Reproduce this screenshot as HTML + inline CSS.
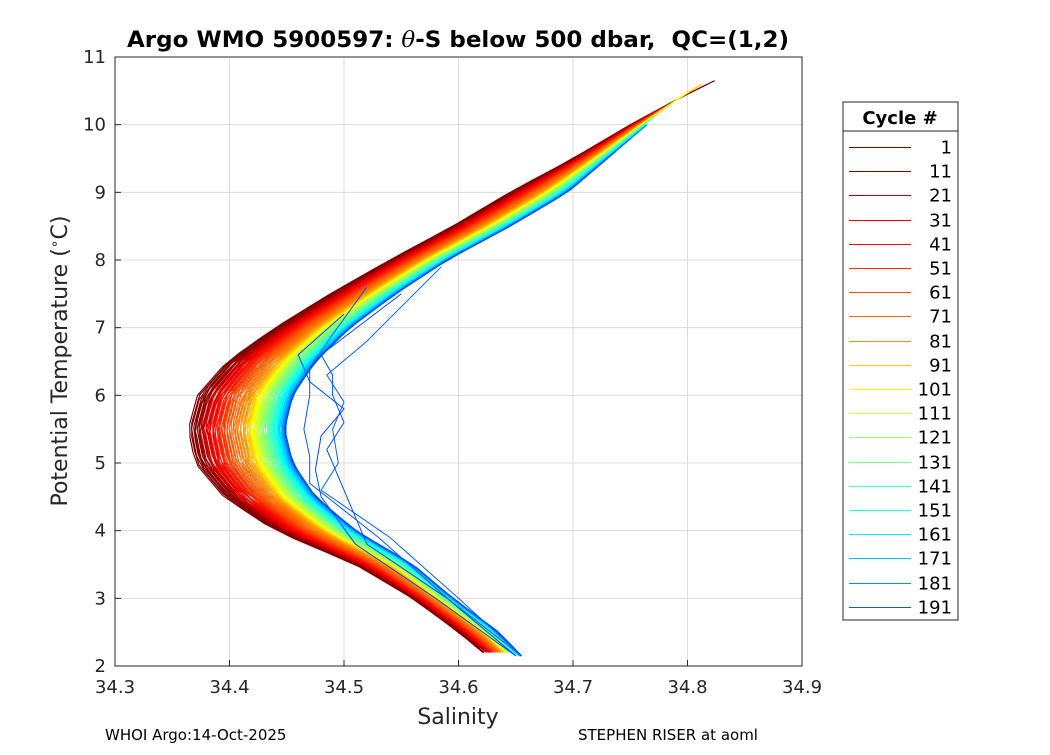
<!DOCTYPE html>
<html><head><meta charset="utf-8"><style>
body{margin:0;background:#fff;}
svg text{font-family:"DejaVu Sans","Liberation Sans",sans-serif;}
</style></head><body>
<svg id="chart" width="1050" height="750" xmlns="http://www.w3.org/2000/svg">
<rect width="1050" height="750" fill="#fff"/>
<g id="grid"></g>
<g id="lines"></g>
<rect x="115" y="57" width="687" height="609" fill="none" stroke="#262626" stroke-width="1"/>
<g id="ticks"></g>
<text x="458" y="47" text-anchor="middle" font-size="22" font-weight="bold" fill="#000" textLength="662" lengthAdjust="spacingAndGlyphs">Argo WMO 5900597: <tspan font-style="italic" font-family="DejaVu Serif,serif" font-weight="normal">θ</tspan>-S below 500 dbar,&#160; QC=(1,2)</text>
<text x="458" y="724" text-anchor="middle" font-size="22" fill="#262626">Salinity</text>
<text transform="translate(67,361) rotate(-90)" text-anchor="middle" font-size="22" fill="#262626">Potential Temperature (<tspan dy="-8" font-size="14">∘</tspan><tspan dy="8">C)</tspan></text>
<text x="105" y="740" font-size="15" fill="#000">WHOI Argo:14-Oct-2025</text>
<text x="578" y="740" font-size="15" fill="#000">STEPHEN RISER at aoml</text>
<g id="legend">
<rect x="843" y="102" width="115" height="518" fill="#fff" stroke="#262626"/>
<line x1="843" y1="131" x2="958" y2="131" stroke="#262626"/>
<text x="900" y="124" text-anchor="middle" font-size="18" font-weight="bold">Cycle #</text>
</g>
</svg>
<script>
const xTicks=[34.3,34.4,34.5,34.6,34.7,34.8,34.9];
const xTickLabels=["34.3","34.4","34.5","34.6","34.7","34.8","34.9"];
const yTicks=[2,3,4,5,6,7,8,9,10,11];
const yTickLabels=["2","3","4","5","6","7","8","9","10","11"];
const legendCycles=[1,11,21,31,41,51,61,71,81,91,101,111,121,131,141,151,161,171,181,191];
const levelT=[2.15,2.5,3,3.5,4,4.5,5,5.5,6,6.5,7,7.5,8,8.5,9,9.5,10,10.5,10.7];
const earlyS=[34.625,34.60,34.56,34.51,34.44,34.395,34.37,34.364,34.372,34.398,34.44,34.488,34.54,34.595,34.645,34.70,34.75,34.805,34.83];
const lateS=[34.655,34.635,34.595,34.56,34.51,34.475,34.455,34.448,34.455,34.475,34.505,34.545,34.59,34.645,34.695,34.73,34.765,34.80,34.82];
const cycles=[1,3,5,7,9,11,13,15,17,19,21,23,25,27,29,31,33,35,37,39,41,43,45,47,49,51,53,55,57,59,61,63,65,67,69,71,73,75,77,79,81,83,85,87,89,91,93,95,97,99,101,103,105,107,109,111,113,115,117,119,121,123,125,127,129,131,133,135,137,139,141,143,145,147,149,151,153,155,157,159,161,163,165,167,169,171,173,175,177,179,181,183,185,187,189,191,193];
const frac=[0.00,0.02,0.05,0.03,0.07,0.09,0.06,0.11,0.10,0.14,0.12,0.16,0.15,0.19,0.17,0.21,0.20,0.24,0.22,0.26,0.25,0.29,0.27,0.31,0.30,0.34,0.32,0.36,0.35,0.39,0.37,0.42,0.40,0.45,0.43,0.48,
0.50,0.47,0.53,0.51,0.56,0.54,0.58,0.57,0.60,0.62,0.61,0.64,0.63,0.66,0.65,0.68,0.67,0.70,0.69,0.72,0.71,0.74,0.73,0.76,0.75,0.77,0.79,0.78,0.80,0.82,0.81,0.83,0.85,0.84,0.86,0.87,0.86,0.88,0.89,0.90,0.89,0.91,0.92,0.93,0.92,0.94,0.95,0.94,0.96,0.97,0.96,0.97,0.98,0.99,0.98,0.99,1.00,0.99,1.00,1.00,1.00];
const topT=[10.65,10.6,10.4,10.5,10.3,10.45,10.2,10.4,10.1,10.35,10.3,10.0,10.28,9.9,10.2,10.3,9.8,10.1,10.2,9.9,10.25,10.0,9.7,10.1,10.3,9.9,10.0,10.2,9.8,10.1,10.3,10.0,9.9,10.2,10.1,10.3,9.8,10.0,10.2,10.4,10.1,9.9,10.3,10.5,10.2,10.6,10.4,10.3,10.55,10.2,10.5,10.3,10.1,10.4,10.2,10.0,10.3,10.1,9.9,10.2,10.0,9.8,10.1,9.9,10.0,9.8,10.1,9.9,10.0,9.7,10.0,9.9,9.8,10.0,9.7,9.9,10.0,9.8,9.6,9.9,9.8,9.7,10.0,9.6,9.8,9.9,9.7,9.5,9.8,9.9,10.0,9.7,9.6,9.8,9.4,9.6,9.5];
const botT=[2.2,2.25,2.3,2.2,2.27,2.22,2.3,2.25,2.2,2.28,2.24,2.2,2.3,2.26,2.22,2.2,2.28,2.25,2.3,2.22,2.2,2.26,2.24,2.3,2.2,2.27,2.23,2.2,2.25,2.3,2.22,2.2,2.26,2.24,2.28,2.2,2.25,2.22,2.3,2.2,2.24,2.27,2.2,2.25,2.22,2.2,2.26,2.24,2.2,2.22,2.25,2.2,2.23,2.2,2.26,2.22,2.2,2.24,2.2,2.22,2.2,2.25,2.2,2.22,2.18,2.2,2.23,2.2,2.18,2.2,2.22,2.18,2.2,2.17,2.2,2.18,2.16,2.2,2.17,2.15,2.18,2.16,2.2,2.15,2.17,2.15,2.16,2.15,2.17,2.15,2.16,2.15,2.15,2.16,2.15,2.15,2.15];
const oddCycles=[189,191,193,195];
const oddS=[[34.655,34.60,34.54,34.48,34.495,34.49,34.50,34.485,34.52,34.585],[34.655,34.59,34.53,34.47,34.47,34.465,34.47,34.47,34.49,34.52],[34.65,34.59,34.52,34.50,34.485,34.50,34.49,34.49,34.48,34.55],[34.65,34.58,34.51,34.48,34.475,34.48,34.50,34.47,34.46,34.50]];
const oddT=[[2.15,3.0,3.9,4.6,5.0,5.5,5.9,6.3,6.8,7.9],[2.15,3.0,3.9,4.7,5.1,5.5,6.0,6.4,6.9,7.6],[2.15,3.0,3.8,4.6,5.2,5.6,6.0,6.3,6.6,7.5],[2.15,3.0,3.8,4.5,4.9,5.4,5.8,6.2,6.6,7.2]];

const X=s=>115+(s-34.3)/0.6*687;
const Y=t=>666-(t-2)/9*609;
const NS="http://www.w3.org/2000/svg";
function mk(tag,attrs,parent){const e=document.createElementNS(NS,tag);for(const k in attrs)e.setAttribute(k,attrs[k]);parent.appendChild(e);return e;}
function jet(v){v=Math.max(0,Math.min(1,v));const r=Math.max(0,Math.min(1,1.5-Math.abs(4*v-3))),g=Math.max(0,Math.min(1,1.5-Math.abs(4*v-2))),b=Math.max(0,Math.min(1,1.5-Math.abs(4*v-1)));return `rgb(${Math.round(r*255)},${Math.round(g*255)},${Math.round(b*255)})`;}
const cmapC=[1,31,81,101,121,151,171,191,200];
const cmapV=[1.04,0.90,0.74,0.62,0.52,0.40,0.31,0.21,0.18];
function cyc2v(c){let i=0;while(i<cmapC.length-2&&c>cmapC[i+1])i++;const a=(c-cmapC[i])/(cmapC[i+1]-cmapC[i]);return cmapV[i]+a*(cmapV[i+1]-cmapV[i]);}
const grid=document.getElementById('grid'),ticks=document.getElementById('ticks'),lines=document.getElementById('lines'),legend=document.getElementById('legend');
xTicks.forEach((v,i)=>{
 const gl=mk('line',{x1:X(v),x2:X(v),y1:57,y2:666,stroke:'#dcdcdc'},grid);
 
 const tk=mk('line',{x1:X(v),x2:X(v),y1:666,y2:660,stroke:'#262626'},ticks);
 
 const t=mk('text',{x:X(v),y:693,'text-anchor':'middle','font-size':18,fill:'#262626'},ticks);t.textContent=xTickLabels[i];
 
});
yTicks.forEach((v,i)=>{
 const gl=mk('line',{x1:115,x2:802,y1:Y(v),y2:Y(v),stroke:'#dcdcdc'},grid);
 
 const tk=mk('line',{x1:115,x2:121,y1:Y(v),y2:Y(v),stroke:'#262626'},ticks);
 
 const t=mk('text',{x:106,y:Y(v)+6,'text-anchor':'end','font-size':18,fill:'#262626'},ticks);t.textContent=yTickLabels[i];
 
});
function interpS(f,T){let i=0;while(i<levelT.length-2&&T>levelT[i+1])i++;const a=(T-levelT[i])/(levelT[i+1]-levelT[i]);const e=earlyS[i]+a*(earlyS[i+1]-earlyS[i]),l=lateS[i]+a*(lateS[i+1]-lateS[i]);return e+f*(l-e);}
cycles.forEach((c,k)=>{
 const pts=[];const n=40;
 for(let j=0;j<=n;j++){const T=botT[k]+(topT[k]-botT[k])*j/n;pts.push(X(interpS(frac[k],T)).toFixed(1)+','+Y(T).toFixed(1));}
 const p=mk('polyline',{points:pts.join(' '),fill:'none',stroke:jet(cyc2v(c)),'stroke-width':1.2},lines);
 
});
oddCycles.forEach((c,k)=>{
 const pts=oddS[k].map((s,j)=>X(s).toFixed(1)+','+Y(oddT[k][j]).toFixed(1));
 const p=mk('polyline',{points:pts.join(' '),fill:'none',stroke:jet(cyc2v(c)),'stroke-width':1},lines);
 
});
legendCycles.forEach((c,i)=>{
 const y=Math.round(147+i*24.2)+0.5;
 const l=mk('line',{x1:849,x2:911,y1:y,y2:y,stroke:jet(cyc2v(c)),'stroke-width':1},legend);
 
 const t=mk('text',{x:952,y:y+6,'text-anchor':'end','font-size':18,fill:'#000'},legend);t.textContent=c;
 
});
</script>
</body></html>
